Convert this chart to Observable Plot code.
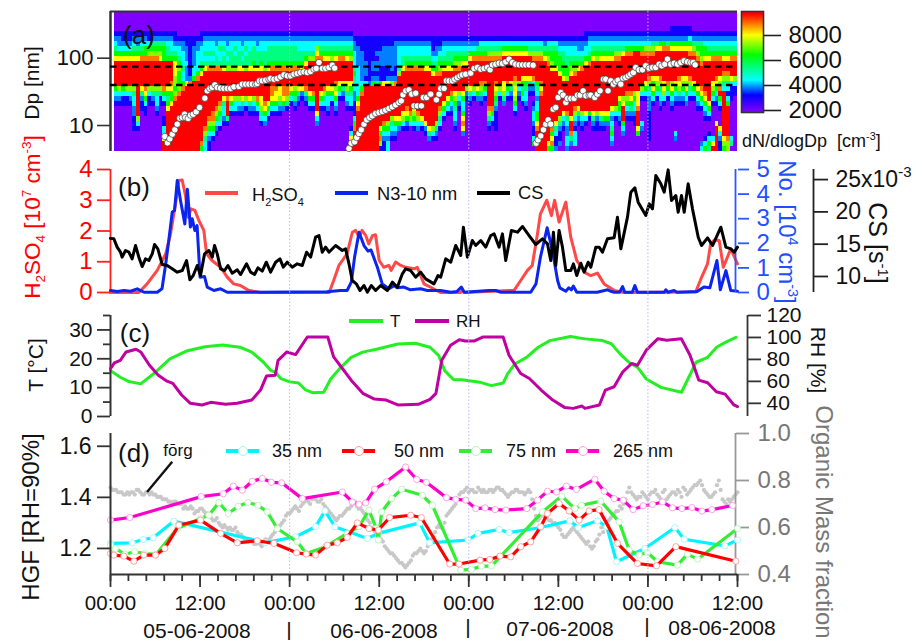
<!DOCTYPE html>
<html><head><meta charset="utf-8">
<script src="https://cdn.jsdelivr.net/npm/d3@7"></script>
<script src="https://cdn.jsdelivr.net/npm/@observablehq/plot@0.6"></script>
<style>
html,body{margin:0;padding:0;background:#fff}
#chart{position:relative;width:916px;height:640px;overflow:hidden;font-family:"Liberation Sans",Arial,sans-serif;color:#111}
.lab{position:absolute;white-space:nowrap;line-height:1;transform-origin:center}
.lab sup,.lab sub{font-size:60%;line-height:0}
.sw{position:absolute;height:3.4px}
.cir{position:absolute;border-radius:50%;background:#fff;box-sizing:border-box}
</style></head><body><div id="chart"></div>
<script>
// Panel (a): size distribution, one string per half hour, top bin first, level digit per bin (missing = 0)
const levelValues=[1900,3000,3800,4400,5400,6400,7200,8000,8900,9900];
const distribution=[
"0000123457999995321","0000122357999996321","0000112357999995311","0000112357999996311","0000112357999996321",
"000012345799999643322111","000012245799999999999631","00001234589999974211","000012355899999875311","0000113568999996311",
"0000124568999996421","000012456899999643321","0000124567999996411","000012455599999853100113379 9","0000123445999997545799999999",
"0000123345999987557999999999","0000112345777665689999999999","0000012334565556899999999999","0000012233343358999999999999","0000011222322279999999999999",
"0000011111111289999999999999","0000011222233599999999999999","0000012233335899999999999999","0000112333457999999999999985","0000123343479999999999986433",
"0000123343489999999998653211","000012334348999999998865310","0000122334489999999865321","0000123433489999998 65431","000012343447999997 43321",
"0000122343469999989 9941","000012334446999997531","00001234344699999 6331","00001233444799999 6321","00001223434799999 7421",
"00001234344699999 631","00001233444799999 7421","00001234445799999 6321","00001223444799999 8531","00001233445799999 776431",
"00001233444 6999999 87532","00001234445 7999999 7531","000012344458999887531","000012344458999877531","000012344458999776421",
"00001234445899988752","00001234445899988641","0000123444589997531","00001234445899965421","0000123344589997421",
"000012334457999721","0000123345799998421","00001233469999997531","00001233469999998531","00001236789999999999732",
"00001234589999997531","000012345799999 86431","000012345799999 753321","000012345699999 7531","00001234579999 8675321",
"00001234589999 7531","00001234589999 7421","00001234579999 764321","00001234569999 75433100013799","000001223334543322111358 9999",
"00000112222333333578 99999999","00000111222222358 99999999999","0000011111222139999999999999","0000011111111129999999999999","0000011111221259999999999999",
"0000011121221249999999999999","00000111222111599999999 75861","0000011222211179999999 853211","0000011222211279999999 653233","000001122222126999999 64321",
"000001222221128999999 75321","000001233334699999999752","00000123344799999999 7631","000001233458999999987521","00000123345899999999863",
"00000123345899999997 6531","000001233458999999998632","00000123345899999999 9731","000001233457999999999 9721","00000123345799999999999742",
"00000111234579999999999631","000001122345899999999 96421","0000011234568999999 86431","000001233457999999 7531","00000123445799999 7531",
"0000012344579999 85321","0000012345689999 76543321","0000012345689999 6321","0000012345799999 753357872","000001234579999 621",
"0000012357999997421","000001235899999631","000001245899999752","00000134589999 86421","00000134589999 8531",
"00000134689999 9999986421","00000134689999 999998531","00000134689999 8765421111","00000134689999 9631","00000135799999 77642",
"00000135799999 8531","00000135799999 7421","0000013579999 86776531","0000013579999 96321","0000013579999 754531",
"0000013579999 7543321","0000013469999 7421","00000134689998321 0123321135","0000013468 9999 54323355789999","0000013468 9999 87899999999999",
"00000124579999999999999999 99","00000134568 999999999999999 75","000001345567 99999999999 85785","000001345557 9999999999 743112","0000012345557 99999999 642112",
"00000123445557 999999 7321","00000123344556 999999 84322332","0000012334567 99999999 799842","0000012334568 999999 86321333","000001223457 9999999 7421",
"000001223458 99999999 6321","00001123357 999999999 731","00001233458 999999999 51","0000123457 9999999999 7421","0000123456 9999999999 6211",
"0000123457 9999999999 7421","0000123457 9999999999 7521","0000123457 9999999999 752","0000123457 999999999 73234532","0000123468 999999999 631",
"0000123468 9999999 755321","0000123479 9999999 67999532","000012358 9999999 865321","000012358 9999999 875421","000012359 9999999 6533211",
"000012359 9999999 777899975","000012358 999999 631000032","000012368 99999 7531","000012368 9999 8643222111111","000012468 9999 757531",
"000012479 9999 76531","000012579 9999 8643321","000012589 99999 77631","000012489 99999 8531","000112579 99999 675321",
"000112579 99999 7532100000 32","000112579 9999 876421","000112579 9999 765321","000112579 9999 767532","000113578 9999 86431",
"000012468 99999 7531","0000124568 99999 75321","00001245568 9999 87531000000 23","0000123557 999999 875321000135","0000123457 99999999 7531001354",
"0000123458 9999 76531000000379","0000123458 999 875321000799999","0000123458 999 768953100073211","0000123457 99 8643999999999765","0000123457 99 8643135999999866",
"0000123458 999 7311100000 0034","0000123458 999 6311"
].map(s=>s.replace(/ /g,""));
const dpBinTop=494, dpBinRatio=0.8426;

// size-distribution mode diameter (hours since start, log10 nm)
const modeHours=[7.28,7.64,7.95,8.27,8.62,8.94,9.29,9.61,9.92,10.05,10.41,10.72,11.08,11.48,11.93,12.64,12.96,13.31,13.63,13.98,14.3,14.74,15.19,15.64,16.08,16.53,17.2,17.65,18.1,18.54,18.99,19.44,19.66,19.97,20.33,20.78,21.22,21.45,21.9,22.34,22.79,23.24,23.68,24.13,24.58,25.02,25.47,25.92,26.36,26.81,27.26,27.57,27.93,28.38,28.82,29.27,29.72,30.03,
31.95,32.26,32.71,32.98,33.29,33.6,33.96,34.32,34.72,35.08,35.52,35.97,36.42,36.86,37.31,37.76,38.2,38.65,38.96,39.19,39.55,39.99,40.35,40.89,40.66,41.11,41.65,41.91,42.36,42.81,42.9,43.66,44.02,44.24,44.69,45,45.36,45.8,46.12,46.47,46.83,47.14,47.59,48.26,48.71,49.16,49.6,50.05,50.5,50.85,51.17,51.61,52.06,52.51,52.95,53.4,53.85,54.29,54.74,55.19,55.63,56.08,56.62,
57.02,57.29,57.64,58,58.31,58.63,58.98,59.3,59.65,59.97,60.33,60.64,61,61.22,61.67,62.11,62.56,62.92,63.32,63.68,64.12,64.34,64.88,65.23,65.59,66.66,66.04,66.35,67.02,67.38,67.69,68,68.36,68.67,69.03,69.39,69.7,70.06,70.37,70.82,71.27,71.71,72.16,72.61,73.05,73.5,73.86,74.26,74.62,75.06,75.51,75.96,76.4,76.85,77.3,77.74,78.06,78.33];
const modeLogDp=[.837,.742,.802,.871,.936,1.02,1.109,1.119,1.168,1.119,1.104,1.153,1.168,1.203,1.267,1.406,1.515,1.55,1.565,1.604,1.565,1.555,1.55,1.55,1.55,1.574,1.579,1.614,1.614,1.614,1.614,1.614,1.624,1.664,1.664,1.674,1.688,1.698,1.688,1.698,1.723,1.753,1.738,1.738,1.763,1.773,1.787,1.797,1.787,1.802,1.837,1.847,1.936,1.847,1.847,1.862,1.896,1.852,
.658,.737,.757,.822,.881,.936,1.02,1.084,1.119,1.144,1.178,1.193,1.208,1.228,1.253,1.277,1.307,1.342,1.366,1.456,1.515,1.53,1.466,1.48,1.292,1.292,1.292,1.416,1.416,1.466,1.466,1.381,1.466,1.55,1.55,1.664,1.664,1.664,1.688,1.713,1.738,1.753,1.763,1.778,1.847,1.862,1.837,1.847,1.862,1.827,1.901,1.911,1.926,1.921,1.946,1.986,1.936,1.911,1.901,1.901,1.901,1.901,1.896,
.737,.787,.846,.936,1.02,1.084,1.02,1.243,1.267,1.416,1.49,1.451,1.342,1.401,1.401,1.401,1.451,1.451,1.515,1.441,1.451,1.451,1.416,1.466,1.515,1.515,1.688,1.688,1.664,1.614,1.649,1.674,1.614,1.703,1.713,1.738,1.763,1.787,1.862,1.827,1.827,1.887,1.852,1.862,1.862,1.911,1.887,1.911,1.986,1.911,1.926,1.911,1.936,1.961,1.946,1.936,1.936,1.901];
const dashedDp=[75,40];

// Panel (b)
const h2so4Hours=[0,3.8,4.9,6.26,7.4,8.04,8.7,9.16,9.6,10.05,10.4,10.8,11.3,11.84,12.5,12.87,13.6,14.75,15.64,16.5,17.4,18.5,20.1,29.3,29.9,30.6,31.7,32.4,32.84,33.3,33.7,34.2,34.6,35.1,35.5,36,36.6,37.3,37.6,38.2,38.9,39.55,40.7,41.1,42,42.9,44.2,46.9,47.1,47.4,54.07,54.96,55.86,56.5,57.2,57.6,58.45,59.07,59.5,60.1,61,61.66,62.47,63.68,64.35,65.24,66.13,67.47,68.8,78.4,79.1,79.98,80.4,80.9,81.55,82.1,83.1,84];
const h2so4=[0,0,.28,.72,1.26,1.9,2.88,3.64,3.66,3.15,2.45,2.72,2.67,2.34,2.02,1.26,1.04,.82,.5,.28,.23,.07,0,0,.39,.88,1.26,1.96,2.02,1.8,2.02,1.85,1.58,1.85,1.88,1.04,.82,.88,.72,.99,.88,.82,.77,.82,.28,.17,0,0,.05,0,.07,.39,.72,.88,1.9,2.56,3,2.5,3,2.29,2.94,1.8,1.04,.63,.55,.63,.28,.07,0,.02,.44,.93,1.58,1.71,1.69,.82,1.42,.93];
const n310Hours=[0,.9,1.8,2.7,3.58,4.5,6.26,6.9,7.4,7.8,8.27,8.58,8.94,9.38,9.96,10.3,10.7,10.95,11.3,11.6,12,12.6,12.96,13.85,14.75,15.64,16.5,29,30.8,31.7,32.26,32.7,33.3,33.96,34.5,34.9,35.75,36.4,37.3,38,38.4,39.3,40.2,41.55,42.45,44.2,45.6,46.4,47,47.4,50.7,51.6,52.3,56.3,57,57.6,58.5,59.2,59.9,60.2,61,61.4,61.75,62,62.47,65.2,66.6,67,67.5,68.2,68.6,68.9,69.9,70.25,70.6,74.2,74.4,74.7,75.5,75.9,78.6,79.5,80.3,81.24,81.7,82.45,83.1,84];
const n310=[.08,.04,.08,.05,.15,.01,.01,.15,1.17,2.1,3.27,3.33,4.55,3.74,2.79,4.2,2.66,3,2.52,2.72,.62,.65,.22,.08,.15,.01,.01,.03,.08,.08,.42,1.44,2.45,1.91,1.68,1.73,1.03,.35,.15,.28,.19,.22,.11,.15,.08,.08,.01,.04,.22,.01,.08,.08,.01,.01,.35,1.44,2.63,1.71,.49,.19,.05,.19,.11,.26,.01,.01,.11,.05,.01,.01,.24,.01,.01,.28,.01,.01,.11,.01,.08,.01,.04,.22,.19,1.3,.11,.89,.08,.05];
const csHours=[.0,.45,.89,1.34,1.56,2.01,2.46,2.9,3.35,3.8,4.24,4.69,5.14,5.59,5.9,6.34,6.93,7.6,8.27,8.94,9.61,10.19,10.63,11.08,11.62,12.06,12.6,13.18,13.63,13.94,14.3,14.75,15.28,15.73,16.31,16.98,17.43,18.23,18.77,19.3,19.75,20.33,20.87,21.45,22.12,22.7,23.15,23.68,24.35,25.02,25.69,26.27,26.81,27.48,27.93,28.37,28.82,29.27,30.16,31.05,31.5,31.95,32.39,32.93,33.42,33.96,34.41,34.94,35.52,36.19,37.09,37.76,38.43,39.1,39.54,40.21,40.88,41.55,42.23,43.34,43.88,44.24,44.91,45.58,46.25,46.92,47.28,47.81,48.48,48.93,49.6,50.27,50.94,51.39,52.06,52.51,52.95,53.71,54.52,55.19,56.08,56.97,57.87,58.54,58.98,59.34,59.65,60.1,60.55,61,61.67,62.02,62.47,63.01,63.45,63.99,64.35,65.02,65.46,65.91,66.58,67.47,67.92,68.37,69.26,69.71,70.25,70.69,71.72,72.17,72.61,73.06,73.73,74.18,74.71,75.16,75.74,76.05,76.5,76.86,77.39,77.97,78.74,79.18,79.99,80.66,81.77,82.44,83.11,83.56,84];
const cs=[15.9,15.83,14.54,13.76,12.99,14.02,13.76,12.73,14.79,12.99,11.54,12.73,12.47,13.5,14.95,14.28,11.85,11.7,11.18,10.67,10.92,12.47,9.48,10.15,11.7,10.15,13.5,14.02,12.99,14.79,13.5,11.18,10.92,11.7,10.51,11.03,10.3,11.96,10.67,10.3,11.34,10.82,12.21,10.67,12.21,12.73,11.44,12.21,11.44,11.96,11.7,13.76,12.99,16.08,16.34,13.76,14.54,13.76,14.79,14.02,14.28,11.96,9.38,8.86,7.83,8.6,7.57,8.6,7.83,8.6,7.83,9.12,8.34,10.41,11.18,10.92,9.89,10.67,9.63,8.86,10.15,9.89,12.73,12.21,14.79,13.25,17.63,12.99,15.57,14.79,15.57,14.54,16.34,16.6,14.54,16.6,12.47,17.12,16.86,17.74,16.34,14.95,15.83,15.05,12.47,16.86,11.7,17.12,14.54,10.92,10.92,11.96,10.15,12.06,10.67,12.21,11.44,14.54,14.54,13.76,15.83,15.98,19.18,14.28,19.18,23.05,23.72,21.5,19.44,21.24,20.47,25.63,24.34,23.05,26.5,21.76,22.53,19.95,22.53,19.95,24.34,20.47,16.08,14.79,15.98,14.79,17.63,14.54,14.28,13.76,14.54];

// Panel (c)
const tHours=[0,1.31,2.48,4.05,5.77,7.96,10.3,12.66,15.01,17.36,18.93,20.5,21.44,22.07,22.84,24.02,25.2,26.14,27.15,28.56,29.5,30.67,32.24,33.8,35.76,38.5,40.85,42.81,43.98,44.77,45.94,47.12,49.47,51.03,52.6,53.2,54.17,55.74,57.3,58.87,61.61,63.57,65.92,67.1,68.27,69.44,70.62,71.79,73.75,76.49,77.27,78.45,80,81.2,82.37,83.78];
const temperature=[15.9,13.6,12.1,11.3,14.8,20,22.8,24.2,24.8,24,22.3,18.8,16,15.4,13.1,12,11.6,9.2,8.2,8.4,13,16.5,20.5,22.3,23.4,25.1,25.4,24,21.1,15.9,12.8,12.7,11.9,10.7,11.6,14.8,18.2,20.5,24,26.3,27.7,26.9,26.3,25.2,21.7,18.8,17,13,10.1,8.4,12.5,18.8,20.5,24,25.7,27.4];
const rhHours=[0,.52,1.31,2.09,3.42,4.05,5.22,6.4,7.57,8.35,9.53,10.7,12.27,13.44,15.4,16.97,18.93,20.1,20.89,22.07,22.45,23.63,24.8,26.37,29.11,29.89,31.07,32.24,33.8,35.37,36.94,38.5,41.24,42.81,43.6,44.38,45.56,46.73,47.52,48.69,49.87,52.6,53.39,54.95,56.12,57.69,59.25,60.82,61.99,63.17,63.56,65.5,66.3,67.47,68.64,69.82,70.6,71.78,73.34,74.52,76.47,77.64,78.82,80,81.17,82.34,83.52,84];
const rh=[71.7,76.8,79.2,86.8,89.2,86.8,74.7,65.6,60.2,58.1,47.6,40,38.5,40.9,39.1,40,43,52.1,64.8,65.6,79.2,86.8,84.4,100.4,100.4,82.3,71.7,61.1,49.1,43.9,43,38.5,39.1,43.6,49.1,79.2,92.8,97.9,96.7,96.7,100.4,100.4,83.8,67.2,62.6,52.1,43,36.3,35.4,37.5,35.4,38.5,52.1,55.1,68.7,76.3,74.7,88.4,98.9,97.4,98.9,83.8,61.1,58.7,50.5,48.4,38.5,37];

// Panel (d)
const hgf35Hours=[0,2.9,4.38,5.72,8.49,20.78,24.8,27.48,28.73,30.07,34.41,35.88,41.42,42.76,47.9,49.24,52.06,53.4,57.64,61.53,62.69,65.24,66.49,67.79,71.59,75.61,76.86,82.31,84];
const hgf35=[1.22,1.222,1.235,1.242,1.307,1.223,1.246,1.285,1.347,1.285,1.239,1.259,1.3,1.222,1.233,1.259,1.274,1.262,1.282,1.308,1.282,1.308,1.285,1.148,1.2,1.282,1.236,1.21,1.233];
const hgf50Hours=[0,.45,1.79,3.13,4.47,6.03,7.28,9.16,12.06,14.75,16.98,19.66,21.89,24.93,26.23,27.48,29.04,30.38,31.72,33.07,34.63,35.88,37.4,40.21,41.64,45.44,46.69,49.51,50.81,52.19,53.62,54.96,56.3,57.64,58.54,60.1,61.44,62.78,64.12,65.46,67.92,70.6,73.15,75.74,83.78];
const hgf50=[1.18,1.174,1.17,1.15,1.174,1.174,1.2,1.291,1.311,1.259,1.222,1.23,1.22,1.183,1.178,1.174,1.213,1.222,1.243,1.3,1.278,1.272,1.321,1.33,1.321,1.139,1.139,1.154,1.157,1.17,1.167,1.207,1.226,1.285,1.337,1.376,1.347,1.311,1.347,1.352,1.22,1.141,1.132,1.207,1.15];
const hgf75Hours=[0,.67,1.92,3.26,4.6,6.12,8.94,12.06,13.18,14.52,15.77,17.11,18.41,19.75,21,22.34,25.02,26.23,28.82,31.72,33.29,34.63,35.61,35.88,36.33,37.67,39.01,41.78,43.12,46.92,48.35,49.69,51.03,57.87,60.46,62.2,63.1,65.69,68.14,69.49,70.82,71.94,73.28,75.96,77.3,78.65,84];
const hgf75=[1.213,1.2,1.177,1.187,1.18,1.177,1.278,1.317,1.33,1.38,1.337,1.365,1.38,1.369,1.343,1.278,1.226,1.18,1.207,1.259,1.285,1.35,1.278,1.233,1.343,1.395,1.432,1.408,1.369,1.115,1.118,1.131,1.131,1.343,1.405,1.356,1.369,1.385,1.304,1.194,1.174,1.184,1.148,1.135,1.178,1.158,1.278];
const hgf265Hours=[0,2.59,12.15,15.1,16.44,17.65,18.99,20.33,21.54,22.92,25.69,31.05,32.39,33.29,34.18,35.39,36.95,39.54,41.02,42.31,45,46.25,47.59,48.93,50.18,51.52,52.95,55.77,57.2,58.54,59.74,61.08,62.42,64.88,66.13,67.47,68.68,70.02,71.36,72.61,73.95,75.29,76.55,77.89,79.23,80.57,83.34];
const hgf265=[1.311,1.321,1.403,1.414,1.444,1.428,1.463,1.474,1.459,1.457,1.395,1.421,1.382,1.373,1.378,1.432,1.461,1.519,1.47,1.459,1.399,1.392,1.389,1.356,1.359,1.352,1.35,1.356,1.389,1.424,1.421,1.444,1.431,1.471,1.424,1.395,1.389,1.352,1.367,1.372,1.382,1.359,1.356,1.36,1.346,1.352,1.368];
// organic mass fraction, one value per half hour, and the readings a quarter hour after each
const forg=[.77,.76,.75,.75,.74,.74,.75,.76,.75,.74,.75,.75,.74,.73,.72,.72,.71,.71,.70,.70,.69,.68,.68,.67,.68,.67,.66,.64,.63,.62,.60,.60,.60,.59,.58,.57,.55,.54,.54,.53,.53,.54,.54,.56,.58,.60,.62,.65,.66,.68,.68,.69,.71,.71,.72,.72,.71,.70,.68,.66,.64,.64,.65,.67,.68,.70,.69,.68,.66,.63,.60,.58,.56,.54,.51,.49,.48,.46,.45,.43,.45,.48,.49,.51,.49,.52,.55,.58,.61,.60,.65,.67,.69,.72,.75,.76,.75,.76,.75,.76,.76,.75,.76,.76,.77,.76,.74,.74,.75,.76,.75,.74,.76,.72,.65,.64,.65,.64,.63,.62,.60,.57,.56,.58,.60,.58,.56,.54,.54,.51,.54,.57,.58,.62,.64,.66,.67,.68,.72,.77,.74,.72,.73,.74,.72,.75,.76,.73,.75,.72,.74,.75,.76,.73,.76,.75,.77,.78,.80,.76,.74,.73,.75,.80,.72,.70,.71,.73,.75];
const forgLater=[.76,.76,.75,.74,.75,.75,.74,.76,.74,.75,.74,.74,.73,.73,.72,.71,.70,.71,.70,.68,.68,.69,.66,.67,.68,.66,.65,.63,.64,.61,.61,.59,.59,.60,.57,.56,.54,.55,.53,.54,.52,.55,.55,.57,.59,.61,.63,.66,.67,.69,.67,.70,.72,.70,.73,.71,.72,.69,.67,.65,.63,.65,.66,.68,.69,.71,.68,.67,.64,.62,.59,.57,.55,.52,.50,.49,.47,.45,.44,.44,.46,.49,.50,.50,.50,.53,.56,.60,.60,.62,.66,.68,.70,.74,.75,.77,.76,.75,.77,.75,.75,.76,.75,.77,.76,.75,.73,.75,.76,.75,.75,.75,.75,.68,.63,.65,.66,.63,.62,.61,.59,.56,.57,.59,.59,.57,.55,.53,.52,.52,.55,.60,.60,.63,.65,.67,.69,.70,.75,.75,.73,.73,.75,.73,.74,.75,.74,.72,.76,.73,.75,.74,.75,.77,.74,.76,.78,.79,.78,.75,.73,.74,.78,.76,.71,.72,.72,.74];

const font='"Liberation Sans",Arial,sans-serif';
const chart=document.getElementById("chart");
const plain=d=>String(d);
function add(opts){
  const el=Plot.plot({width:916,height:640,marginLeft:110,marginRight:179,marginTop:11,marginBottom:66,
    x:{domain:[0,84],axis:null},
    ...opts,
    style:{position:"absolute",left:0,top:0,background:"transparent",fontFamily:font,overflow:"visible",maxWidth:"none"}});
  chart.appendChild(el);
}
function lab(html,x,y,o={}){
  const d=document.createElement("div");d.className="lab";d.innerHTML=html;
  d.style.left=x+"px";d.style.top=y+"px";
  d.style.fontSize=(o.size||20)+"px";d.style.color=o.color||"#111";
  const ax=o.anchor==="start"?"0":"-50%";
  d.style.transform=`translate(${ax},-50%) rotate(${o.rot||0}deg)`;
  chart.appendChild(d);
}
function swatch(x,y,w,color,pale,rad){
  const s=document.createElement("div");s.className="sw";
  s.style.cssText+=`left:${x}px;top:${y-1.7}px;width:${w}px;background:${color}`;chart.appendChild(s);
  if(pale){const c=document.createElement("div");c.className="cir";
    c.style.cssText+=`left:${x+w/2-rad}px;top:${y-rad}px;width:${2*rad}px;height:${2*rad}px;border:1px solid ${pale}`;chart.appendChild(c);}
}

// ---- panel (a)
const cells=[];
distribution.forEach((s,i)=>{for(let r=0;r<28;r++){cells.push({
  h1:(i+1)/2,h2:(i+2)/2,
  d1:dpBinTop*dpBinRatio**(r+1),d2:dpBinTop*dpBinRatio**r,
  v:levelValues[+(s[r]||0)]});}});
const colorScale={type:"linear",domain:[1900,3200,4400,6400,8000,9700],range:["#7f00ff","#0000ff","#00ffff","#00ff00","#ffff00","#ff0000"],clamp:true};
const dpY={type:"log",domain:[4.11,494],axis:null};
add({marginBottom:489,y:dpY,color:colorScale,marks:[
  Plot.rect(cells,{x1:"h1",x2:"h2",y1:"d1",y2:"d2",fill:"v",shapeRendering:"crispEdges"}),
  Plot.ruleX([0],{stroke:"#333",strokeWidth:2.5}),
  Plot.ruleY([494],{stroke:"#333",strokeWidth:2}),
  Plot.ruleY(dashedDp,{stroke:"#000",strokeWidth:2.4,strokeDasharray:"6.5 4.5"}),
  Plot.dot(modeLogDp,{x:modeHours,y:v=>10**v,r:3.2,fill:"#fff",stroke:"#222",strokeWidth:.6}),
  Plot.axisY({ticks:[10,100],tickFormat:plain,anchor:"left",tickSize:13,tickPadding:4,fontSize:22,strokeWidth:1.6,stroke:"#333",color:"#111",label:null})
]});

// colour bar
const barValues=d3.range(1840,9920,40);
add({marginLeft:741,marginRight:153,marginTop:11,marginBottom:528,x:{domain:[0,1],axis:null},y:{domain:[1840,9920],axis:null},color:colorScale,marks:[
  Plot.rect(barValues,{x1:0,x2:1,y1:d=>d,y2:d=>d+40,fill:d=>d,shapeRendering:"crispEdges"}),
  Plot.frame({stroke:"#333",strokeWidth:1.6}),
  Plot.axisY({ticks:[2000,4000,6000,8000],tickFormat:plain,anchor:"right",tickSize:17,tickPadding:8,fontSize:24,strokeWidth:1.6,stroke:"#222",color:"#111",label:null})
]});

// ---- panel (b)
const mB={marginTop:169,marginBottom:348};
add({...mB,y:{domain:[0,4],axis:null},marks:[
  Plot.line(h2so4,{x:h2so4Hours,y:d=>d,stroke:"#ff4848",strokeWidth:3}),
  Plot.ruleX([0],{stroke:"#ff2020",strokeWidth:1.8}),
  Plot.axisY({ticks:[0,1,2,3,4],tickFormat:plain,anchor:"left",tickSize:13,tickPadding:5,fontSize:24,strokeWidth:1.8,stroke:"#ff2020",color:"#ff0000",label:null})
]});
add({...mB,y:{domain:[0,5],axis:null},marks:[
  Plot.line(n310,{x:n310Hours,y:d=>d,stroke:"#0b24f0",strokeWidth:3}),
  Plot.ruleX([84],{stroke:"#2a58ff",strokeWidth:1.8,dx:-2}),
  Plot.axisY({ticks:[0,1,2,3,4,5],tickFormat:plain,anchor:"right",tickSize:11,tickPadding:8,fontSize:24,strokeWidth:1.8,stroke:"#2a58ff",color:"#1f50ff",label:null})
]});
add({...mB,y:{domain:[7.52,26.56],axis:null},marks:[
  Plot.line(cs,{x:csHours,y:d=>d,stroke:"#000",strokeWidth:3})
]});
add({...mB,marginLeft:700,marginRight:103,x:{domain:[0,1],axis:null},y:{domain:[7.52,26.56],axis:null},marks:[
  Plot.ruleX([1],{stroke:"#222",strokeWidth:1.8}),
  Plot.axisY({ticks:[10,15,20,25],tickFormat:d=>d===25?"25x10":String(d),anchor:"right",tickSize:14,tickPadding:8,fontSize:23,strokeWidth:1.8,stroke:"#222",color:"#111",label:null})
]});

// ---- panel (c)
const mC={marginTop:315,marginBottom:224};
add({...mC,y:{domain:[0,35],axis:null},marks:[
  Plot.line(temperature,{x:tHours,y:d=>d,stroke:"#22f022",strokeWidth:3}),
  Plot.ruleX([0],{stroke:"#333",strokeWidth:2}),
  Plot.axisY({ticks:[0,10,20,30],tickFormat:plain,anchor:"left",tickSize:13,tickPadding:5,fontSize:21,strokeWidth:1.8,stroke:"#333",color:"#111",label:null}),
  Plot.axisY({ticks:[5,15,25,35],tickFormat:()=>"",anchor:"left",tickSize:7,strokeWidth:1.8,stroke:"#333",label:null})
]});
add({...mC,y:{domain:[28,120],axis:null},marks:[
  Plot.line(rh,{x:rhHours,y:d=>d,stroke:"#c000a0",strokeWidth:3})
]});
add({...mC,marginLeft:700,marginRight:169,x:{domain:[0,1],axis:null},y:{domain:[28,120],axis:null},marks:[
  Plot.ruleX([1],{stroke:"#333",strokeWidth:1.8}),
  Plot.axisY({ticks:[40,60,80,100,120],tickFormat:plain,anchor:"right",tickSize:13,tickPadding:6,fontSize:21,strokeWidth:1.8,stroke:"#333",color:"#111",label:null})
]});

// ---- panel (d)
const mD={marginTop:433,marginBottom:66};
add({...mD,y:{domain:[.4,1.0],axis:null},marks:[
  Plot.dot(forg,{x:(d,i)=>i/2,y:d=>d,r:2.1,fill:"#c8c8c8",stroke:"none"}),
  Plot.dot(forgLater,{x:(d,i)=>i/2+.25,y:d=>d,r:2.1,fill:"#c8c8c8",stroke:"none"})
]});
add({...mD,marginLeft:700,marginRight:181,x:{domain:[0,1],axis:null},y:{domain:[.4,1.0],axis:null},marks:[
  Plot.ruleX([1],{stroke:"#999",strokeWidth:1.8}),
  Plot.axisY({ticks:[.4,.6,.8,1],tickFormat:d3.format(".1f"),anchor:"right",tickSize:13,tickPadding:9,fontSize:24,strokeWidth:1.8,stroke:"#999",color:"#777",label:null})
]});
const hgfSeries=[
  [hgf35Hours,hgf35,"#00f4ff","#9ff6ff"],
  [hgf75Hours,hgf75,"#33ee33","#b5f5b5"],
  [hgf50Hours,hgf50,"#ff0000","#ff9a9a"],
  [hgf265Hours,hgf265,"#ff00cc","#ff9ae8"]];
add({...mD,y:{domain:[1.098,1.65],axis:null},marks:[
  ...hgfSeries.flatMap(([hs,vs,c,p])=>[
    Plot.line(vs,{x:hs,y:d=>d,stroke:c,strokeWidth:3.2}),
    Plot.dot(vs,{x:hs,y:d=>d,r:3.1,fill:"#fff",stroke:p,strokeWidth:.9})]),
  Plot.link([0],{x1:4.9,y1:1.421,x2:8.27,y2:1.539,stroke:"#111",strokeWidth:2.4}),
  Plot.ruleX([0],{stroke:"#333",strokeWidth:2}),
  Plot.ruleY([1.098],{stroke:"#333",strokeWidth:2.2}),
  Plot.axisY({ticks:[1.2,1.4,1.6],tickFormat:d3.format(".1f"),anchor:"left",tickSize:13,tickPadding:6,fontSize:23,strokeWidth:1.8,stroke:"#333",color:"#111",label:null}),
  Plot.axisX({ticks:d3.range(0,85,12),tickFormat:d=>d%24===0?"00:00":"12:00",anchor:"bottom",tickSize:13,tickPadding:8,fontSize:20.5,strokeWidth:1.8,stroke:"#333",color:"#111",label:null}),
  Plot.axisX({ticks:d3.range(0,84.1,2.4),tickFormat:()=>"",anchor:"bottom",tickSize:7,strokeWidth:1.8,stroke:"#333",label:null})
]});

// midnight guide lines
add({marginTop:11,marginBottom:66,marks:[
  Plot.ruleX([24,48,72],{stroke:"#b8b8ff",strokeWidth:1,strokeDasharray:"1.5 2"})
]});

// ---- text
lab("(a)",139,35,{size:26});lab("(b)",134,187,{size:26});lab("(c)",135,333,{size:26});lab("(d)",134,453,{size:26});
lab("Dp [nm]",31,83,{size:21,rot:-90});
lab('H<sub>2</sub>SO<sub>4</sub> [10<sup>7</sup> cm<sup>-3</sup>]',33,217,{size:22.5,rot:-90,color:"#ff0000"});
lab('No. [10<sup>4</sup> cm<sup>-3</sup>]',787,232,{size:24,rot:90,color:"#1f50ff"});
lab('CS [s<sup>-1</sup>]',877,243,{size:25,rot:90});
lab('-3',905,171,{size:15});
lab("T [°C]",35,365,{size:21,rot:-90});
lab("RH [%]",818,360,{size:21,rot:90});
lab("Organic Mass fraction",824,522,{size:24,rot:90,color:"#777"});
lab("HGF [RH=90%]",31,517,{size:24,rot:-90});
lab('dN/dlogDp&nbsp; [cm<sup>-3</sup>]',742,141,{size:18,anchor:"start"});
lab("fōrg",178,450,{size:17});

swatch(205,193,33,"#ff4848");lab('H<sub>2</sub>SO<sub>4</sub>',252,195,{size:18.3,anchor:"start"});
swatch(335,193,33,"#0b24f0");lab("N3-10 nm",377,194,{size:18.3,anchor:"start"});
swatch(477,193,33,"#000");lab("CS",518,193,{size:18.3,anchor:"start"});
swatch(349,321,34,"#22f022");lab("T",390,321,{size:17,anchor:"start"});
swatch(415,321,34,"#c000a0");lab("RH",456,321,{size:17,anchor:"start"});
swatch(226,451,33,"#00f4ff","#9ff6ff",5);lab("35 nm",272,451,{size:18,anchor:"start"});
swatch(342,451,33,"#ff0000","#ff9a9a",5);lab("50 nm",394,451,{size:18,anchor:"start"});
swatch(459,451,33,"#33ee33","#b5f5b5",5);lab("75 nm",506,451,{size:18,anchor:"start"});
swatch(566,451,33,"#ff00cc","#ff9ae8",5);lab("265 nm",613,451,{size:18,anchor:"start"});

lab("05-06-2008",197,630,{size:21});lab("06-06-2008",384,630,{size:21});
lab("07-06-2008",560,628,{size:21});lab("08-06-2008",722,627,{size:21});
lab("|",289,629,{size:21});lab("|",468,626,{size:21});lab("|",647,625,{size:21});
</script></body></html>
